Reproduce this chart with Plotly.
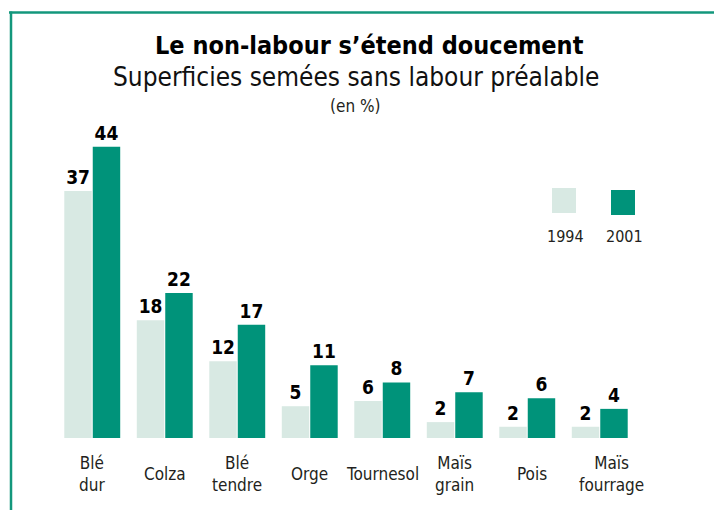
import plotly.graph_objects as go

categories = ["Blé<br>dur", "Colza", "Blé<br>tendre", "Orge", "Tournesol",
              "Maïs<br>grain", "Pois", "Maïs<br>fourrage"]
values_1994 = [37.3, 17.8, 11.6, 4.8, 5.6, 2.4, 1.7, 1.7]
values_2001 = [44.0, 21.9, 17.1, 11.0, 8.4, 6.9, 6.0, 4.4]
series_names = ["1994", "2001"]

LIGHT = "#d8e9e3"
GREEN = "#00937a"
FRAME = "#13977c"
TXT = "#231f20"
NARROW = "DejaVu Sans Condensed, sans-serif"

OFF = 8  # page body margin
W, H = 722 - OFF, 510 - OFF
# plot area in page pixels: x 56..636, y 107..438
PX0, PX1, PY0, PY1 = 56, 636, 107, 438
L, T = PX0 - OFF, PY0 - OFF
R, B = W - (PX1 - OFF), H - (PY1 - OFF)
pw, ph = PX1 - PX0, PY1 - PY0

def px_x(p):
    return (p - PX0) / pw

def px_y(p):
    return (PY1 - p) / ph

fig = go.Figure()
for name, vals, col in [(series_names[0], values_1994, LIGHT), (series_names[1], values_2001, GREEN)]:
    fig.add_trace(go.Bar(
        x=categories, y=vals, name=name, marker=dict(color=col, line=dict(width=0)),
        texttemplate="%{y:.0f}", textposition="outside", cliponaxis=False,
        textfont=dict(family=NARROW, size=19, color="#000000", weight="bold"),
        showlegend=False,
    ))

fig.update_layout(
    width=W, height=H, margin=dict(l=L, r=R, t=T, b=B, pad=0),
    paper_bgcolor="white", plot_bgcolor="white",
    barmode="group", bargap=0.215, bargroupgap=0.035,
    xaxis=dict(showticklabels=False, showgrid=False, zeroline=False, showline=False, ticks="",
               range=[-0.5, 7.5]),
    yaxis=dict(visible=False, range=[0, 50]),
)

# category labels, vertically centred below the bars (a couple sit slightly right)
label_shift = {"Pois": 5, "Maïs<br>fourrage": 12}
for c in categories:
    fig.add_annotation(x=c, xref="x", y=px_y(474), yref="paper", text=c, showarrow=False,
                       yanchor="middle", xanchor="center", align="center",
                       xshift=label_shift.get(c, 0),
                       font=dict(family=NARROW, size=17, color=TXT))

# titles
fig.add_annotation(x=px_x(369), xref="paper", y=px_y(45), yref="paper", showarrow=False,
                   text="Le non-labour s’étend doucement", yanchor="middle", xanchor="center",
                   font=dict(family=NARROW, size=25, color="#000000", weight="bold"))
fig.add_annotation(x=px_x(356), xref="paper", y=px_y(77), yref="paper", showarrow=False,
                   text="Superficies semées sans labour préalable", yanchor="middle", xanchor="center",
                   font=dict(family=NARROW, size=26, color="#111111"))
fig.add_annotation(x=px_x(355), xref="paper", y=px_y(106), yref="paper", showarrow=False,
                   text="(en %)", yanchor="middle", xanchor="center",
                   font=dict(family=NARROW, size=17, color=TXT))

# legend
leg = [(552, 576, 188, 213, LIGHT, series_names[0]), (611, 635, 190, 215, GREEN, series_names[1])]
for x0, x1, y0, y1, col, name in leg:
    fig.add_shape(type="rect", xref="paper", yref="paper", x0=px_x(x0), x1=px_x(x1),
                  y0=px_y(y1), y1=px_y(y0), fillcolor=col, line=dict(width=0))
    fig.add_annotation(x=px_x((x0 + x1) / 2 + 1), xref="paper", y=px_y(237), yref="paper",
                       text=name, showarrow=False, yanchor="middle", xanchor="center",
                       font=dict(family=NARROW, size=16, color=TXT))

# frame
fig.add_shape(type="line", xref="paper", yref="paper", x0=px_x(9), x1=px_x(730),
              y0=px_y(12.5), y1=px_y(12.5), line=dict(color=FRAME, width=2.5))
fig.add_shape(type="line", xref="paper", yref="paper", x0=px_x(11), x1=px_x(11),
              y0=px_y(11.5), y1=px_y(520), line=dict(color=FRAME, width=2.5))

fig.write_html("out.html")
